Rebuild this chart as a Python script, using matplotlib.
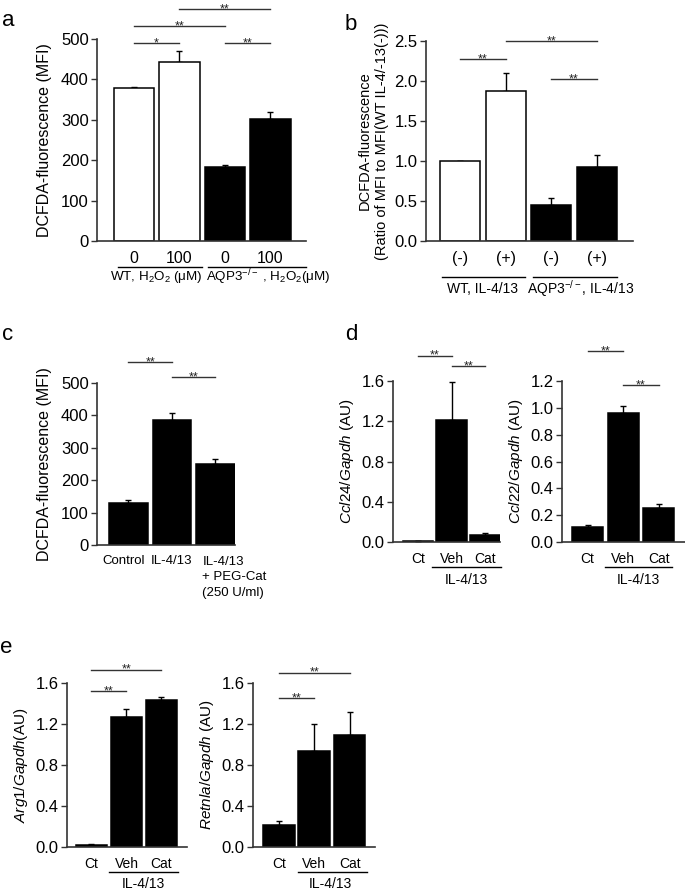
import matplotlib
matplotlib.use('Agg')
import matplotlib.pyplot as plt
from matplotlib.transforms import ScaledTranslation

plt.rcParams['font.family'] = ['Liberation Sans', 'DejaVu Sans']
plt.rcParams['mathtext.fontset'] = 'custom'
plt.rcParams['mathtext.rm'] = 'Liberation Sans'
plt.rcParams['mathtext.it'] = 'Liberation Sans:italic'

W, H = 685, 890

# panel a: DCFDA MFI, WT vs AQP3-/- with H2O2
a_labels = ['0', '100', '0', '100']
a_mfi = [378, 443, 183, 302]
a_err = [4, 28, 5, 18]
a_colors = ['white', 'white', 'black', 'black']

# panel b: ratio to WT IL-4/13(-)
b_labels = ['(-)', '(+)', '(-)', '(+)']
b_ratio = [1.0, 1.88, 0.45, 0.93]
b_err = [0.0, 0.22, 0.09, 0.15]

# panel c: MFI with PEG-catalase
c_labels = ['Control', 'IL-4/13', '']
c_mfi = [130, 385, 250]
c_err = [10, 23, 15]

# panels d, e: qPCR
treat = ['Ct', 'Veh', 'Cat']
ccl24 = [0.01, 1.21, 0.07]
ccl24_err = [0.004, 0.38, 0.02]
ccl22 = [0.115, 0.965, 0.255]
ccl22_err = [0.01, 0.045, 0.025]
arg1 = [0.02, 1.27, 1.43]
arg1_err = [0.005, 0.08, 0.03]
retnla = [0.21, 0.94, 1.09]
retnla_err = [0.04, 0.26, 0.23]

fig = plt.figure(figsize=(W / 100, H / 100), dpi=100)
AX_COL = '#333333'


def make_axes(left, top, right, bottom):
    return fig.add_axes([left / W, 1 - bottom / H, (right - left) / W, (bottom - top) / H])


def bar_panel(ax, vals, errs, colors, labels, width, xlim, ylim, yticks, yfmt, tick_fs=10.5):
    x = list(range(len(vals)))
    ax.bar(x, vals, width=width, color=colors, edgecolor='black', linewidth=1.1, zorder=2)
    ax.errorbar(x, vals, yerr=[[0] * len(errs), errs], fmt='none', ecolor='black',
                elinewidth=1.0, capsize=2.5, capthick=1.0, zorder=1)
    ax.set_xlim(*xlim)
    ax.set_ylim(*ylim)
    ax.set_yticks(yticks)
    ax.set_yticklabels([yfmt.format(t) for t in yticks], fontsize=12)
    ax.set_xticks(x)
    ax.set_xticklabels(labels, fontsize=tick_fs)
    ax.tick_params(axis='x', length=0, pad=7)
    ax.tick_params(axis='y', length=4, width=1.0, color=AX_COL, pad=2)
    for s in ['top', 'right']:
        ax.spines[s].set_visible(False)
    for s in ['left', 'bottom']:
        ax.spines[s].set_color(AX_COL)
        ax.spines[s].set_linewidth(1.2)
    ax.patch.set_alpha(0)


def sig(ax, i, j, y, label):
    ax.plot([i, j], [y, y], color=AX_COL, lw=1.0, clip_on=False)
    ax.annotate(label, xy=((i + j) / 2, y), xytext=(0, -2.2), textcoords='offset points',
                ha='center', va='baseline', fontsize=9, color='#222222', annotation_clip=False)


def group_line(ax, x0, x1, yfrac, label, ylab, xlab=None, fs=10):
    tr = ax.get_xaxis_transform()
    ax.plot([x0, x1], [yfrac, yfrac], color='black', lw=1.0, transform=tr, clip_on=False)
    if xlab is None:
        xlab = (x0 + x1) / 2
    ax.text(xlab, ylab, label, transform=tr, ha='center', va='center', fontsize=fs)


def letter(x, y, s):
    fig.text(x / W, 1 - y / H, s, fontsize=16, va='baseline', ha='left')


# ---- a ----
ax = make_axes(97, 39, 306, 241)
bar_panel(ax, a_mfi, a_err, a_colors, a_labels, 0.89, (-0.81, 3.78), (0, 500),
          [0, 100, 200, 300, 400, 500], '{:.0f}', tick_fs=11.5)
ax.set_ylabel('DCFDA-fluorescence (MFI)', fontsize=11.5, labelpad=6)
sig(ax, 0, 1, 490, '*')
sig(ax, 0, 2, 532, '**')
sig(ax, 1, 3, 574, '**')
sig(ax, 2, 3, 490, '**')
group_line(ax, -0.35, 1.49, -0.129, r'WT, H$_2$O$_2$ (μM)', -0.18, 0.48, fs=9.6)
group_line(ax, 1.63, 3.78, -0.129, r'AQP3$^{-/-}$ , H$_2$O$_2$(μM)', -0.18, 2.95, fs=9.6)
letter(2, 26, 'a')

# ---- b ----
ax = make_axes(426, 41, 633, 241)
bar_panel(ax, b_ratio, b_err, a_colors, b_labels, 0.875, (-0.74, 3.79), (0, 2.5),
          [0, 0.5, 1.0, 1.5, 2.0, 2.5], '{:.1f}', tick_fs=11.5)
ax.set_ylabel('DCFDA-fluorescence\n(Ratio of MFI to MFI(WT IL-4/-13(-)))', fontsize=10.5,
              labelpad=4, linespacing=1.3)
sig(ax, 0, 1, 2.275, '**')
sig(ax, 1, 3, 2.5, '**')
sig(ax, 2, 3, 2.025, '**')
group_line(ax, -0.39, 1.42, -0.18, 'WT, IL-4/13', -0.24, 0.5)
group_line(ax, 1.6, 3.44, -0.18, r'AQP3$^{-/-}$, IL-4/13', -0.24, 2.65)
letter(345, 30, 'b')

# ---- c ----
ax = make_axes(97, 383, 235, 545)
bar_panel(ax, c_mfi, c_err, 'black', c_labels, 0.89, (-0.72, 2.45), (0, 500),
          [0, 100, 200, 300, 400, 500], '{:.0f}', tick_fs=9.5)
ax.get_xticklabels()[0].set_transform(ax.get_xticklabels()[0].get_transform()
                                      + ScaledTranslation(-0.05, 0, fig.dpi_scale_trans))
ax.set_ylabel('DCFDA-fluorescence (MFI)', fontsize=11.5, labelpad=6)
ax.text(1.7, -0.07, 'IL-4/13\n+ PEG-Cat\n(250 U/ml)', transform=ax.get_xaxis_transform(),
        ha='left', va='top', fontsize=9.5, linespacing=1.35)
sig(ax, 0, 1, 565, '**')
sig(ax, 1, 2, 518, '**')
letter(2, 340, 'c')

# ---- d ----
ax = make_axes(393, 381, 500, 542)
bar_panel(ax, ccl24, ccl24_err, 'black', treat, 0.9, (-0.75, 2.45), (0, 1.6),
          [0, 0.4, 0.8, 1.2, 1.6], '{:.1f}', tick_fs=10)
ax.set_ylabel(r'$\mathit{Ccl24/Gapdh}$ (AU)', fontsize=11, labelpad=4)
sig(ax, 0, 1, 1.85, '**')
sig(ax, 1, 2, 1.75, '**')
group_line(ax, 0.42, 2.48, -0.155, 'IL-4/13', -0.236)
letter(345, 340, 'd')

ax = make_axes(562, 381, 685, 542)
bar_panel(ax, ccl22, ccl22_err, 'black', treat, 0.87, (-0.72, 2.74), (0, 1.2),
          [0, 0.2, 0.4, 0.6, 0.8, 1.0, 1.2], '{:.1f}', tick_fs=10)
ax.set_ylabel(r'$\mathit{Ccl22/Gapdh}$ (AU)', fontsize=11, labelpad=4)
sig(ax, 0, 1, 1.42, '**')
sig(ax, 1, 2, 1.17, '**')
group_line(ax, 0.49, 2.38, -0.155, 'IL-4/13', -0.236, 1.42)

# ---- e ----
ax = make_axes(67, 683, 187, 847)
bar_panel(ax, arg1, arg1_err, 'black', treat, 0.89, (-0.7, 2.73), (0, 1.6),
          [0, 0.4, 0.8, 1.2, 1.6], '{:.1f}', tick_fs=10)
ax.set_ylabel(r'$\mathit{Arg1/Gapdh}$(AU)', fontsize=11, labelpad=4)
sig(ax, 0, 2, 1.73, '**')
sig(ax, 0, 1, 1.52, '**')
group_line(ax, 0.5, 2.47, -0.152, 'IL-4/13', -0.226)
letter(0, 653, 'e')

ax = make_axes(253, 683, 375, 847)
bar_panel(ax, retnla, retnla_err, 'black', treat, 0.9, (-0.74, 2.72), (0, 1.6),
          [0, 0.4, 0.8, 1.2, 1.6], '{:.1f}', tick_fs=10)
ax.set_ylabel(r'$\mathit{Retnla/Gapdh}$ (AU)', fontsize=11, labelpad=4)
sig(ax, 0, 2, 1.70, '**')
sig(ax, 0, 1, 1.45, '**')
group_line(ax, 0.54, 2.5, -0.152, 'IL-4/13', -0.226, 1.45)

fig.savefig('out.png', dpi=100)
